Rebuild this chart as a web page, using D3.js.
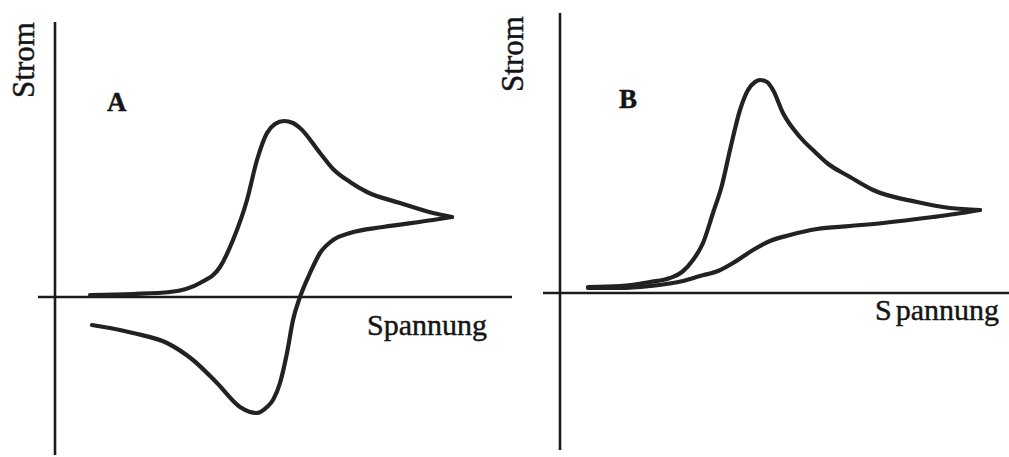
<!DOCTYPE html>
<html>
<head>
<meta charset="utf-8">
<script src="https://cdn.jsdelivr.net/npm/d3@7"></script>
<style>
  html, body { margin: 0; padding: 0; background: #fff; }
  svg { display: block; }
  text { font-family: "Liberation Serif", "Times New Roman", serif; fill: #151515; stroke: #151515; stroke-width: 0.45px; }
</style>
</head>
<body>
<svg id="chart" width="1009" height="457"></svg>
<script>
// Cyclic voltammograms: A reversible, B irreversible (potential, current in arbitrary units)
const panelLabels = ["A", "B"];
const xAxisLabel = "Spannung";
const yAxisLabel = "Strom";

// Panel A: forward (anodic) sweep
const aForwardE = [1.75, 3.9, 5.75, 7.25, 8.25, 8.9, 9.6, 10.1, 10.6, 11.0, 11.45, 11.9, 12.25, 13.25, 13.9, 14.75, 15.6, 17.25, 18.9, 19.85];
const aForwardI = [0.1, 0.15, 0.25, 0.7, 1.5, 2.85, 4.85, 6.85, 8.2, 8.65, 8.8, 8.7, 8.45, 7.2, 6.4, 5.75, 5.25, 4.7, 4.2, 4.0];
// Panel A: reverse (cathodic) sweep
const aReverseE = [19.85, 18.9, 16.4, 14.75, 13.9, 13.25, 12.75, 12.25, 11.9, 11.6, 11.25, 10.9, 10.6, 10.1, 9.75, 9.25, 8.1, 6.9, 5.6, 3.9, 2.75, 1.85];
const aReverseI = [4.0, 3.85, 3.5, 3.2, 2.85, 2.2, 1.2, 0.0, -1.15, -2.8, -4.3, -5.15, -5.5, -5.8, -5.75, -5.5, -4.3, -3.15, -2.3, -1.8, -1.55, -1.4];

// Panel B: forward sweep
const bForwardE = [1.4, 3.0, 4.5, 5.5, 6.1, 6.65, 7.15, 7.65, 8.1, 8.5, 9.0, 9.4, 9.75, 10.0, 10.35, 10.65, 11.15, 12.0, 12.75, 13.35, 14.5, 15.65, 17.85, 19.5, 21.0];
const bForwardI = [0.3, 0.35, 0.55, 0.75, 1.05, 1.65, 2.5, 4.0, 5.4, 7.15, 9.15, 10.15, 10.55, 10.65, 10.55, 10.15, 9.0, 7.8, 7.05, 6.5, 5.8, 5.15, 4.55, 4.25, 4.15];
// Panel B: reverse sweep
const bReverseE = [21.0, 19.75, 18.65, 16.15, 14.5, 12.85, 11.5, 10.5, 9.65, 8.65, 7.9, 7.0, 6.15, 4.5, 3.0, 1.4];
const bReverseI = [4.15, 3.95, 3.8, 3.5, 3.35, 3.2, 2.9, 2.6, 2.15, 1.5, 1.1, 0.85, 0.6, 0.35, 0.25, 0.25];

// pair up values, ordered by potential so the monotone curve can be used
const zip = (xs, ys) => xs.map((x, i) => [x, ys[i]]).sort((a, b) => a[0] - b[0]);

const svg = d3.select("#chart");
const ink = "#1c1c1c";

const panels = [
  {
    label: panelLabels[0],
    x: d3.scaleLinear().domain([-0.85, 22.85]).range([38, 512]),
    y: d3.scaleLinear().domain([-8, 14]).range([457, 17]),
    yAxisTop: 13.75, yAxisBottom: -7.9,
    sweeps: [zip(aForwardE, aForwardI), zip(aReverseE, aReverseI)],
    labelPos: [2.6, 9.3],
    xLabelPos: [15.6, -1.9],
    yLabelPos: [-1.05, 11.85],
    splitS: false
  },
  {
    label: panelLabels[1],
    x: d3.scaleLinear().domain([-0.85, 22.45]).range([543, 1009]),
    y: d3.scaleLinear().domain([-8, 14]).range([453, 13]),
    yAxisTop: 14.0, yAxisBottom: -7.85,
    sweeps: [zip(bForwardE, bForwardI), zip(bReverseE, bReverseI)],
    labelPos: [2.95, 9.25],
    xLabelPos: [15.75, -1.35],
    yLabelPos: [-1.85, 11.95],
    splitS: true
  }
];

panels.forEach(p => {
  const g = svg.append("g");
  const [x0, x1] = p.x.domain();

  // current axis (vertical) and potential axis (horizontal) through the origin
  g.append("line")
    .attr("x1", p.x(0)).attr("x2", p.x(0))
    .attr("y1", p.y(p.yAxisTop)).attr("y2", p.y(p.yAxisBottom))
    .attr("stroke", ink).attr("stroke-width", 2.6);
  g.append("line")
    .attr("x1", p.x(x0)).attr("x2", p.x(x1))
    .attr("y1", p.y(0)).attr("y2", p.y(0))
    .attr("stroke", ink).attr("stroke-width", 2.6);

  // voltammogram sweeps
  const line = d3.line()
    .x(d => p.x(d[0]))
    .y(d => p.y(d[1]))
    .curve(d3.curveMonotoneX);
  p.sweeps.forEach(s => {
    g.append("path")
      .attr("d", line(s))
      .attr("fill", "none")
      .attr("stroke", "#222")
      .attr("stroke-width", 4.2)
      .attr("stroke-linecap", "round")
      .attr("stroke-linejoin", "round");
  });

  // panel letter
  g.append("text")
    .attr("x", p.x(p.labelPos[0])).attr("y", p.y(p.labelPos[1]))
    .attr("font-size", 27).attr("font-weight", "bold")
    .text(p.label);

  // axis titles
  const xl = g.append("text")
    .attr("x", p.x(p.xLabelPos[0])).attr("y", p.y(p.xLabelPos[1]))
    .attr("font-size", 30)
    .attr("text-anchor", "start");
  if (p.splitS) {
    xl.append("tspan").text(xAxisLabel.slice(0, 1));
    xl.append("tspan").attr("dx", 4).text(xAxisLabel.slice(1));
  } else {
    xl.text(xAxisLabel);
  }

  g.append("text")
    .attr("transform", `translate(${p.x(p.yLabelPos[0])},${p.y(p.yLabelPos[1])}) rotate(-90)`)
    .attr("font-size", 31)
    .attr("text-anchor", "middle")
    .text(yAxisLabel);
});
</script>
</body>
</html>
